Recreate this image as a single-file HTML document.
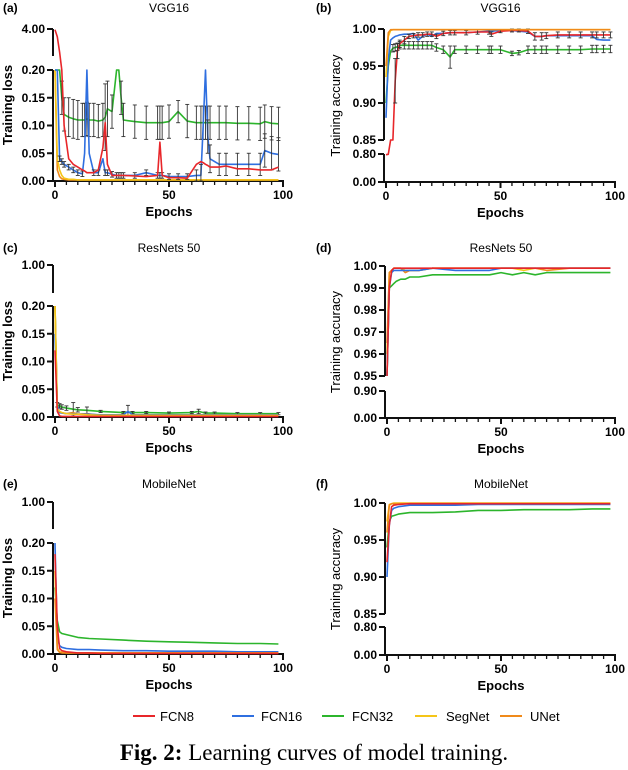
<!DOCTYPE html>
<html><head><meta charset="utf-8"><style>
body{margin:0;background:#fff}
svg{display:block;font-family:"Liberation Sans",Arial,sans-serif}
</style></head><body>
<svg id="fig" width="628" height="770" viewBox="0 0 628 770" xmlns="http://www.w3.org/2000/svg">
<g id="legend">
 <g><line x1="133" y1="716" x2="155" y2="716" stroke="#e8262a" stroke-width="2"/><text x="160" y="721" font-size="13">FCN8</text></g>
 <g><line x1="232" y1="716" x2="254" y2="716" stroke="#2f6fe0" stroke-width="2"/><text x="261" y="721" font-size="13">FCN16</text></g>
 <g><line x1="322" y1="716" x2="344" y2="716" stroke="#2cb52c" stroke-width="2"/><text x="352" y="721" font-size="13">FCN32</text></g>
 <g><line x1="415" y1="716" x2="437" y2="716" stroke="#f5c518" stroke-width="2"/><text x="446" y="721" font-size="13">SegNet</text></g>
 <g><line x1="500" y1="716" x2="522" y2="716" stroke="#f08a1a" stroke-width="2"/><text x="530" y="721" font-size="13">UNet</text></g>
</g>
<text x="314" y="760" text-anchor="middle" font-family="'Liberation Serif',serif" font-size="23"><tspan font-weight="bold">Fig. 2:</tspan> Learning curves of model training.</text>
</svg>
<script>
// ---- data ----
const epochsA=[0,1,2,3,4,6,8,10,12,13,14,15,17,19,21,22,23,25,27,28,29,30,35,40,45,46,47,50,54,58,62,64,65,66,67,68,72,75,80,85,90,92,95,98];
const a_fcn8 =[3.9,3.0,1.0,0.2,0.1,0.04,0.03,0.025,0.02,0.018,0.015,0.015,0.015,0.02,0.06,0.105,0.03,0.01,0.01,0.01,0.01,0.01,0.009,0.008,0.01,0.07,0.01,0.006,0.006,0.005,0.03,0.035,0.033,0.03,0.028,0.025,0.025,0.027,0.022,0.022,0.02,0.02,0.02,0.025];
const a_fcn16=[0.2,0.2,0.04,0.035,0.03,0.025,0.02,0.015,0.013,0.05,0.2,0.05,0.015,0.015,0.04,0.015,0.015,0.012,0.01,0.01,0.01,0.01,0.01,0.015,0.01,0.01,0.01,0.008,0.008,0.008,0.01,0.01,0.1,0.2,0.08,0.04,0.03,0.03,0.03,0.03,0.03,0.055,0.05,0.048];
const a_fcn32=[0.2,0.2,0.2,0.15,0.12,0.115,0.112,0.11,0.11,0.11,0.112,0.11,0.11,0.108,0.11,0.115,0.13,0.125,0.2,0.2,0.15,0.11,0.107,0.105,0.105,0.105,0.105,0.107,0.125,0.108,0.105,0.105,0.105,0.105,0.105,0.105,0.105,0.105,0.104,0.104,0.103,0.107,0.104,0.103];
const a_segnet=[0.2,0.04,0.02,0.01,0.005,0.003,0.003,0.002,0.002,0.002,0.002,0.002,0.002,0.002,0.002,0.002,0.002,0.002,0.002,0.002,0.002,0.002,0.002,0.002,0.002,0.002,0.002,0.002,0.002,0.002,0.002,0.002,0.002,0.002,0.002,0.002,0.002,0.002,0.002,0.002,0.002,0.002,0.002,0.002];
const a_unet=[0.2,0.02,0.008,0.004,0.003,0.002,0.002,0.002,0.002,0.002,0.002,0.002,0.002,0.002,0.002,0.002,0.002,0.002,0.002,0.002,0.002,0.002,0.002,0.002,0.002,0.002,0.002,0.002,0.002,0.002,0.002,0.002,0.002,0.002,0.002,0.002,0.002,0.002,0.002,0.002,0.002,0.002,0.002,0.002];
const a_err32=[0,0,0,0.03,0.03,0.035,0.035,0.035,0.03,0.03,0.03,0.03,0.03,0.03,0.03,0.06,0.05,0.03,0,0,0.03,0.03,0.03,0.03,0.03,0.03,0.03,0.03,0.02,0.03,0.03,0.03,0.03,0.03,0.03,0.03,0.03,0.03,0.03,0.03,0.03,0.03,0.03,0.03];
const a_err16=[0,0,0.005,0.005,0.005,0.005,0.005,0.005,0.005,0,0,0,0.005,0.005,0,0.005,0.005,0.005,0.005,0.005,0.005,0.005,0.005,0.005,0.005,0.005,0.005,0.005,0.005,0.005,0.01,0.02,0,0,0.03,0.025,0.02,0.02,0.02,0.02,0.02,0.03,0.03,0.03];

const epochsB=[0,1,2,3,4,5,6,8,10,12,14,16,18,20,22,25,28,30,35,40,45,46,50,55,58,62,65,68,70,75,80,85,90,92,95,98];
const b_fcn8 =[0.78,0.79,0.85,0.85,0.93,0.97,0.98,0.985,0.99,0.991,0.992,0.992,0.993,0.993,0.99,0.994,0.995,0.995,0.995,0.996,0.996,0.993,0.997,0.998,0.998,0.997,0.99,0.99,0.991,0.992,0.992,0.992,0.992,0.992,0.992,0.992];
const b_fcn16=[0.88,0.96,0.985,0.988,0.99,0.991,0.992,0.993,0.993,0.994,0.985,0.99,0.993,0.99,0.994,0.994,0.995,0.995,0.995,0.996,0.997,0.997,0.998,0.998,0.997,0.996,0.99,0.99,0.991,0.991,0.991,0.991,0.991,0.986,0.985,0.985];
const b_fcn32=[0.9,0.95,0.97,0.974,0.975,0.976,0.978,0.978,0.978,0.978,0.978,0.978,0.978,0.978,0.975,0.972,0.962,0.972,0.972,0.972,0.972,0.972,0.972,0.967,0.968,0.972,0.972,0.972,0.972,0.972,0.972,0.972,0.973,0.973,0.973,0.973];
const b_segnet=[0.935,0.99,0.998,0.999,0.999,0.999,0.999,0.999,0.999,0.999,0.999,0.999,0.999,0.999,0.999,0.999,0.999,0.999,0.999,0.999,0.999,0.999,0.999,0.999,0.999,0.999,0.999,0.999,0.999,0.999,0.999,0.999,0.999,0.999,0.999,0.999];
const b_unet=[0.95,0.995,0.999,0.999,0.999,0.999,0.999,0.999,0.999,0.999,0.999,0.999,0.999,0.999,0.999,0.999,0.999,0.999,0.999,0.999,0.999,0.999,0.999,0.999,0.999,0.999,0.999,0.999,0.999,0.999,0.999,0.999,0.999,0.999,0.999,0.999];
const b_err32=[0,0,0,0.005,0.005,0.005,0.005,0.005,0.005,0.005,0.005,0.005,0.005,0.005,0.005,0.005,0.015,0.005,0.005,0.005,0.005,0.005,0.005,0.003,0.003,0.005,0.005,0.005,0.005,0.005,0.005,0.005,0.005,0.005,0.005,0.005];
const b_err8=[0,0,0,0,0.03,0.01,0.005,0.005,0.003,0.003,0.003,0.003,0.003,0.003,0.003,0.003,0.003,0.003,0.003,0.003,0.003,0.003,0.002,0.002,0.002,0.003,0.005,0.005,0.004,0.004,0.004,0.004,0.004,0.004,0.004,0.004];

const epochsC=[0,1,2,3,5,8,10,14,20,30,32,34,40,50,60,63,66,70,80,90,98];
const c_fcn8 =[0.12,0.01,0.002,0.001,0.001,0.001,0.001,0.001,0.001,0.001,0.001,0.001,0.001,0.001,0.001,0.001,0.001,0.001,0.001,0.001,0.001];
const c_fcn16=[0.15,0.02,0.008,0.007,0.006,0.006,0.005,0.005,0.004,0.004,0.01,0.004,0.004,0.004,0.004,0.004,0.004,0.004,0.004,0.004,0.004];
const c_fcn32=[0.2,0.022,0.02,0.018,0.016,0.014,0.013,0.012,0.01,0.008,0.009,0.008,0.008,0.007,0.008,0.01,0.007,0.007,0.006,0.006,0.006];
const c_segnet=[0.2,0.015,0.01,0.008,0.006,0.005,0.005,0.004,0.003,0.003,0.003,0.003,0.003,0.003,0.003,0.003,0.003,0.003,0.003,0.003,0.003];
const c_unet=[0.2,0.012,0.008,0.008,0.006,0.008,0.005,0.006,0.003,0.003,0.003,0.003,0.003,0.003,0.003,0.003,0.003,0.003,0.003,0.003,0.003];
const c_err32=[0,0.004,0.004,0.004,0.004,0.012,0.004,0.006,0.002,0.002,0.012,0.002,0.002,0.002,0.002,0.004,0.002,0.002,0.002,0.002,0.002];

const epochsD=[0,1,2,3,4,6,8,10,14,20,30,40,45,50,55,60,65,70,80,90,98];
const d_fcn8 =[0.95,0.99,0.998,0.999,0.999,0.999,0.999,0.999,0.999,0.999,0.999,0.999,0.999,0.999,0.999,0.999,0.999,0.999,0.999,0.999,0.999];
const d_fcn16=[0.95,0.99,0.997,0.998,0.998,0.998,0.998,0.998,0.998,0.999,0.998,0.998,0.998,0.999,0.999,0.999,0.999,0.999,0.999,0.999,0.999];
const d_fcn32=[0.95,0.99,0.991,0.992,0.993,0.994,0.994,0.995,0.995,0.996,0.996,0.996,0.996,0.997,0.996,0.997,0.996,0.997,0.997,0.997,0.997];
const d_segnet=[0.96,0.997,0.998,0.999,0.999,0.999,0.998,0.998,0.998,0.999,0.999,0.999,0.999,0.999,0.999,0.998,0.999,0.999,0.999,0.999,0.999];
const d_unet=[0.965,0.997,0.998,0.999,0.999,0.999,0.997,0.998,0.998,0.999,0.999,0.999,0.999,0.999,0.999,0.999,0.999,0.998,0.999,0.999,0.999];

const epochsE=[0,1,2,3,5,10,15,20,30,40,50,60,70,80,90,98];
const e_fcn8 =[0.18,0.05,0.01,0.006,0.004,0.002,0.002,0.001,0.001,0.001,0.001,0.001,0.001,0.001,0.001,0.001];
const e_fcn16=[0.2,0.03,0.015,0.012,0.01,0.008,0.008,0.007,0.006,0.006,0.005,0.005,0.005,0.004,0.004,0.004];
const e_fcn32=[0.12,0.06,0.04,0.037,0.035,0.03,0.028,0.027,0.025,0.023,0.022,0.021,0.02,0.019,0.019,0.018];
const e_segnet=[0.15,0.01,0.004,0.003,0.002,0.002,0.002,0.002,0.002,0.002,0.002,0.002,0.002,0.002,0.002,0.002];
const e_unet=[0.1,0.008,0.003,0.002,0.002,0.002,0.002,0.002,0.002,0.002,0.002,0.002,0.002,0.002,0.002,0.002];

const epochsF=[0,1,2,3,5,10,20,30,40,50,60,70,80,90,98];
const f_fcn8 =[0.92,0.97,0.995,0.997,0.998,0.999,0.999,0.999,0.999,0.999,0.999,0.999,0.999,0.999,0.999];
const f_fcn16=[0.9,0.97,0.99,0.993,0.995,0.997,0.997,0.997,0.998,0.998,0.998,0.998,0.998,0.998,0.998];
const f_fcn32=[0.94,0.975,0.982,0.983,0.985,0.987,0.987,0.988,0.99,0.99,0.991,0.991,0.991,0.992,0.992];
const f_segnet=[0.975,0.998,0.999,1.0,1.0,1.0,1.0,1.0,1.0,1.0,1.0,1.0,1.0,1.0,1.0];
const f_unet=[0.96,0.997,0.999,0.999,0.999,0.999,0.999,0.999,0.999,0.999,0.999,0.999,0.999,0.999,0.999];

const COL={fcn8:"#e8262a",fcn16:"#2f6fe0",fcn32:"#2cb52c",segnet:"#f5c518",unet:"#f08a1a"};
const NS="http://www.w3.org/2000/svg";
const svg=document.getElementById('fig');
function mk(tag,attrs,parent){const e=document.createElementNS(NS,tag);for(const k in attrs)e.setAttribute(k,attrs[k]);parent.appendChild(e);return e;}

function panel(p){
  const g=mk('g',{},svg);
  
  
  const xs=v=>p.x0+(v/100)*(p.x1-p.x0);
  const segs=p.segs;
  const ys=v=>{
    const s0=segs[0];
    if(v<=s0.hi||segs.length<2){const c=Math.min(v,s0.hi);return s0.yb-(c-s0.lo)/(s0.hi-s0.lo)*(s0.yb-s0.yt);}
    const s1=segs[1];
    if(v<s1.lo) return s0.yt-(v-s0.hi)/(s1.lo-s0.hi)*(s0.yt-s1.yb);
    const c=Math.min(v,s1.hi);return s1.yb-(c-s1.lo)/(s1.hi-s1.lo)*(s1.yb-s1.yt);
  };
  const ax=p.x0-2, yAxis=segs[0].yb;
  // axes
  const axg=mk('g',{stroke:'#111','stroke-width':2,fill:'none'},g);
  
  
  segs.forEach(s=>{mk('line',{x1:ax,y1:s.yb,x2:ax,y2:s.yt},axg);});
  mk('line',{x1:ax-1,y1:yAxis,x2:p.x1+1,y2:yAxis},axg);
  for(let t=0;t<=100;t+=5){const L=(t%50===0)?6:4;mk('line',{x1:xs(t),y1:yAxis,x2:xs(t),y2:yAxis+L,'stroke-width':t%50===0?2:1.3},axg);}
  [0,50,100].forEach(t=>{const tx=mk('text',{x:xs(t),y:yAxis+18,'text-anchor':'middle','font-size':12,'font-weight':'bold'},g);tx.textContent=t;
    
    });
  segs.forEach(s=>s.ticks.forEach(t=>{const y=ys(t);mk('line',{x1:ax-6,y1:y,x2:ax,y2:y},axg);
    const tx=mk('text',{x:ax-8,y:y+4,'text-anchor':'end','font-size':12,'font-weight':'bold'},g);tx.textContent=t.toFixed(2);
    
    }));
  // titles
  let t=mk('text',{x:(p.x0+p.x1)/2,y:yAxis+35,'text-anchor':'middle','font-size':13,'font-weight':'bold'},g);t.textContent='Epochs';
  
  
  const cy=(segs[segs.length-1].yt+segs[0].yb)/2;
  t=mk('text',{x:p.ytx,y:cy,'text-anchor':'middle','font-size':13,'font-weight':p.ybold?'bold':'normal',transform:`rotate(-90 ${p.ytx} ${cy})`},g);t.textContent=p.ytitle;
  
  
  t=mk('text',{x:(p.x0+p.x1)/2,y:p.ty,'text-anchor':'middle','font-size':12},g);t.textContent=p.title;
  
  
  t=mk('text',{x:p.lx,y:p.ty,'font-size':12,'font-weight':'bold'},g);t.textContent=p.label;
  
  
  // series
  p.series.forEach(se=>{
    const d=p.epochs.map((e,i)=>(i?'L':'M')+xs(e).toFixed(1)+','+ys(se.v[i]).toFixed(1)).join('');
    const path=mk('path',{d:d,fill:'none',stroke:COL[se.k],'stroke-width':1.6,'stroke-linejoin':'round'},g);
    
    
    if(se.err){
      const eg=mk('g',{stroke:'#333','stroke-width':0.9},g);
      
      
      p.epochs.forEach((e,i)=>{const er=se.err[i];if(!er)return;const x=xs(e),y1=ys(se.v[i]+er),y2=ys(Math.max(0,se.v[i]-er));
        mk('line',{x1:x,y1:y1,x2:x,y2:y2},eg);mk('line',{x1:x-2,y1:y1,x2:x+2,y2:y1},eg);mk('line',{x1:x-2,y1:y2,x2:x+2,y2:y2},eg);});
    }
  });
}
panel({id:'a',label:'(a)',lx:3,title:'VGG16',ty:12,x0:55,x1:283,ytx:12,ytitle:'Training loss',ybold:true,
  segs:[{lo:0,hi:0.2,yb:181,yt:70,ticks:[0,0.05,0.1,0.15,0.2]},{lo:0.5,hi:4,yb:56,yt:29,ticks:[4]}],
  epochs:epochsA,series:[{k:'unet',v:a_unet},{k:'segnet',v:a_segnet},{k:'fcn32',v:a_fcn32,err:a_err32},{k:'fcn16',v:a_fcn16,err:a_err16},{k:'fcn8',v:a_fcn8}]});
panel({id:'b',label:'(b)',lx:316,title:'VGG16',ty:12,x0:386,x1:615,ytx:340,ytitle:'Training accuracy',ybold:false,
  segs:[{lo:0,hi:0.8,yb:182,yt:154,ticks:[0,0.8]},{lo:0.85,hi:1,yb:140,yt:29,ticks:[0.85,0.9,0.95,1]}],
  epochs:epochsB,series:[{k:'fcn32',v:b_fcn32,err:b_err32},{k:'fcn16',v:b_fcn16},{k:'fcn8',v:b_fcn8,err:b_err8},{k:'segnet',v:b_segnet},{k:'unet',v:b_unet}]});
panel({id:'c',label:'(c)',lx:3,title:'ResNets 50',ty:252,x0:55,x1:283,ytx:12,ytitle:'Training loss',ybold:true,
  segs:[{lo:0,hi:0.2,yb:417,yt:306,ticks:[0,0.05,0.1,0.15,0.2]},{lo:0.25,hi:1,yb:293,yt:265,ticks:[1]}],
  epochs:epochsC,series:[{k:'fcn32',v:c_fcn32,err:c_err32},{k:'unet',v:c_unet},{k:'fcn16',v:c_fcn16},{k:'segnet',v:c_segnet},{k:'fcn8',v:c_fcn8}]});
panel({id:'d',label:'(d)',lx:316,title:'ResNets 50',ty:252,x0:387,x1:615,ytx:340,ytitle:'Training accuracy',ybold:false,
  segs:[{lo:0,hi:0.9,yb:418,yt:391,ticks:[0,0.9]},{lo:0.95,hi:1,yb:376,yt:266,ticks:[0.95,0.96,0.97,0.98,0.99,1]}],
  epochs:epochsD,series:[{k:'fcn32',v:d_fcn32},{k:'segnet',v:d_segnet},{k:'unet',v:d_unet},{k:'fcn16',v:d_fcn16},{k:'fcn8',v:d_fcn8}]});
panel({id:'e',label:'(e)',lx:3,title:'MobileNet',ty:488,x0:55,x1:283,ytx:12,ytitle:'Training loss',ybold:true,
  segs:[{lo:0,hi:0.2,yb:654,yt:543,ticks:[0,0.05,0.1,0.15,0.2]},{lo:0.25,hi:1,yb:529,yt:502,ticks:[1]}],
  epochs:epochsE,series:[{k:'fcn32',v:e_fcn32},{k:'fcn16',v:e_fcn16},{k:'segnet',v:e_segnet},{k:'unet',v:e_unet},{k:'fcn8',v:e_fcn8}]});
panel({id:'f',label:'(f)',lx:316,title:'MobileNet',ty:488,x0:387,x1:615,ytx:340,ytitle:'Training accuracy',ybold:false,
  segs:[{lo:0,hi:0.8,yb:655,yt:627,ticks:[0,0.8]},{lo:0.85,hi:1,yb:614,yt:503,ticks:[0.85,0.9,0.95,1]}],
  epochs:epochsF,series:[{k:'fcn32',v:f_fcn32},{k:'fcn16',v:f_fcn16},{k:'segnet',v:f_segnet},{k:'unet',v:f_unet},{k:'fcn8',v:f_fcn8}]});
</script>
</body></html>
